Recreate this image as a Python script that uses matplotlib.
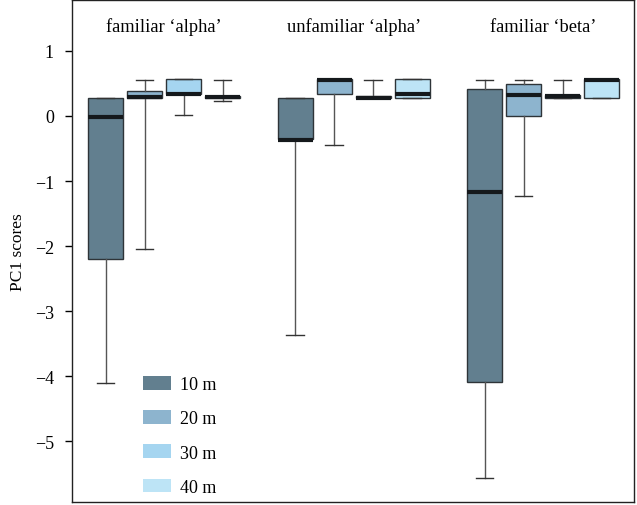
import matplotlib
matplotlib.use("Agg")
import matplotlib.pyplot as plt
from matplotlib.patches import Patch

plt.rcParams['font.family'] = ['Liberation Serif', 'DejaVu Serif']

groups = ["familiar \u2018alpha\u2019", "unfamiliar \u2018alpha\u2019", "familiar \u2018beta\u2019"]
depths = ["10 m", "20 m", "30 m", "40 m"]
colors = ["#627f8f", "#8db4ce", "#a5d5f0", "#bde4f6"]

# per group, per depth: whisker low, q1, median, q3, whisker high
whislo = [[-4.11, -2.04, 0.015, 0.23],
          [-3.37, -0.45, 0.27, 0.28],
          [-5.56, -1.23, 0.28, 0.28]]
q1 = [[-2.20, 0.27, 0.33, 0.27],
      [-0.36, 0.33, 0.27, 0.28],
      [-4.09, 0.00, 0.28, 0.28]]
med = [[-0.01, 0.29, 0.33, 0.29],
       [-0.37, 0.55, 0.28, 0.33],
       [-1.17, 0.32, 0.30, 0.55]]
q3 = [[0.27, 0.38, 0.56, 0.31],
      [0.27, 0.56, 0.31, 0.56],
      [0.42, 0.49, 0.32, 0.56]]
whishi = [[0.27, 0.55, 0.56, 0.55],
          [0.27, 0.56, 0.55, 0.56],
          [0.55, 0.55, 0.55, 0.56]]

fig = plt.figure(figsize=(6.37, 5.06), dpi=100)
ax = fig.add_axes([72/637, 3/506, (634-72)/637, (505-3)/506])

group_step = 4.86
for g in range(len(groups)):
    stats = []
    positions = []
    for d in range(len(depths)):
        stats.append(dict(whislo=whislo[g][d], q1=q1[g][d], med=med[g][d],
                          q3=q3[g][d], whishi=whishi[g][d], fliers=[]))
        positions.append(g * group_step + d)
    bp = ax.bxp(stats, positions=positions, widths=0.9, patch_artist=True,
                showfliers=False,
                boxprops=dict(edgecolor="#2e3438", linewidth=1.0),
                medianprops=dict(color="#15191c", linewidth=3),
                whiskerprops=dict(color="#555555", linewidth=1.0),
                capprops=dict(color="#333333", linewidth=1.0),
                capwidths=0.45)
    for patch, c in zip(bp['boxes'], colors):
        patch.set_facecolor(c)
    ax.text(g * group_step + 1.5, 1.38, groups[g], ha='center', va='center',
            fontsize=13.3)

ax.set_xlim(-0.86, 13.55)
ax.set_ylim(-5.93, 1.78)
ax.set_xticks([])
ax.set_yticks([1, 0, -1, -2, -3, -4, -5])
ax.set_yticklabels(["1", "0", "\u22121", "\u22122", "\u22123", "\u22124", "\u22125"])
ax.tick_params(axis='y', direction='out', length=5, width=1, pad=8, labelsize=13)
ax.set_ylabel("PC1 scores", fontsize=12.5, labelpad=6)
for s in ax.spines.values():
    s.set_linewidth(1.0)
    s.set_color("#222222")

handles = [Patch(facecolor=c, edgecolor='none', label=l) for c, l in zip(colors, depths)]
fig.legend(handles=handles, loc='upper left', bbox_to_anchor=(143/637, 1 - 377/506),
           frameon=False, fontsize=13, handlelength=1.55, handleheight=0.78,
           labelspacing=0.95, borderpad=0, borderaxespad=0, handletextpad=0.5)

fig.savefig("out.png", dpi=100)
